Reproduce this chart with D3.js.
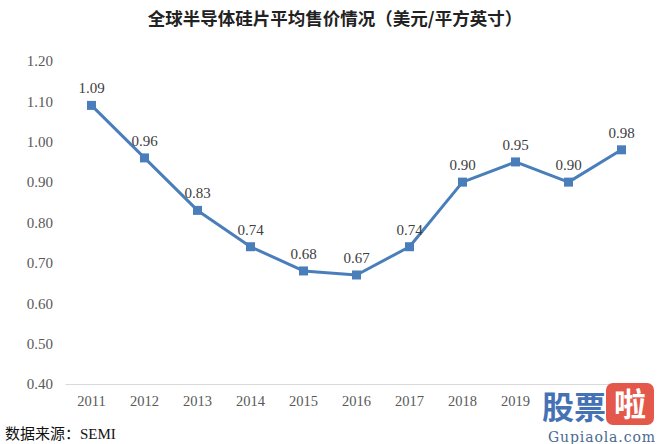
<!DOCTYPE html>
<html><head><meta charset="utf-8">
<script src="https://cdn.jsdelivr.net/npm/d3@7/dist/d3.min.js"></script>
<style>body{margin:0;background:#fff}svg{display:block}</style>
</head><body>
<svg id="c" width="660" height="444"></svg>
<script>
const years = ["2011","2012","2013","2014","2015","2016","2017","2018","2019","2020","2021"];
const prices = [1.09,0.96,0.83,0.74,0.68,0.67,0.74,0.90,0.95,0.90,0.98];
const yTicks = [0.40,0.50,0.60,0.70,0.80,0.90,1.00,1.10,1.20];
// the last two year labels are hidden under the watermark in the reference
const xTickLabels = ["2011","2012","2013","2014","2015","2016","2017","2018","2019"];
const title = "全球半导体硅片平均售价情况（美元/平方英寸）";
const source = "数据来源：SEMI";

const svg = d3.select("#c");
const m = {l:65, r:12};
const W = 660;
const x = d3.scaleBand().domain(years).range([m.l, W - m.r]);
const y = d3.scaleLinear().domain([0.4, 1.2]).range([384, 61]);
const serif = "'Liberation Serif','Times New Roman',serif";

svg.append("text").attr("x", 335).attr("y", 25).attr("text-anchor","middle")
  .style("font-family","'Noto Sans CJK SC',sans-serif").style("font-weight","bold")
  .style("font-size","17.5px").attr("fill","#222").text(title);

const ya = svg.append("g").attr("transform",`translate(${m.l},0)`)
  .call(d3.axisLeft(y).tickValues(yTicks).tickFormat(d3.format(".2f")).tickSize(0).tickPadding(12));
ya.select(".domain").remove();
ya.selectAll("text").style("font-family",serif).style("font-size","15px").attr("fill","#595959");

const xa = svg.append("g").attr("transform",`translate(0,384)`)
  .call(d3.axisBottom(x).tickSize(0).tickPadding(12)
    .tickFormat(d => xTickLabels.includes(d) ? d : ""));
xa.select(".domain").attr("stroke","#d9d9d9").attr("stroke-width",1);
xa.selectAll("text").style("font-family",serif).style("font-size","14.5px").attr("fill","#595959");

const cx = d => x(d) + x.bandwidth()/2;
const line = d3.line().x((d,i)=>cx(years[i])).y(d=>y(d));
svg.append("path").datum(prices).attr("d",line).attr("fill","none")
  .attr("stroke","#4a7ebb").attr("stroke-width",3).attr("stroke-linejoin","round");
svg.selectAll("rect.pt").data(prices).join("rect").attr("class","pt")
  .attr("x",(d,i)=>cx(years[i])-4.5).attr("y",d=>y(d)-4.5)
  .attr("width",9).attr("height",9).attr("fill","#4a7ebb");
svg.selectAll("text.lbl").data(prices).join("text").attr("class","lbl")
  .attr("x",(d,i)=>cx(years[i])).attr("y",d=>y(d)-12).attr("text-anchor","middle")
  .style("font-family",serif).style("font-size","15px").attr("fill","#404040")
  .text(d=>d3.format(".2f")(d));

svg.append("text").attr("x",5).attr("y",439)
  .style("font-family","'Liberation Serif','Noto Sans CJK SC',serif").style("font-size","15px").attr("fill","#111")
  .text(source);

// watermark
const wm = svg.append("g");
wm.append("text").attr("x",542).attr("y",419).style("font-family","'Noto Sans CJK SC',sans-serif")
  .style("font-weight","bold").style("font-size","32px").attr("fill","#4572b5").text("股票");
wm.append("rect").attr("x",606).attr("y",383).attr("width",48).attr("height",42).attr("rx",7).attr("fill","#e4584b");
wm.append("text").attr("x",630).attr("y",416).attr("text-anchor","middle").style("font-family","'Noto Sans CJK SC',sans-serif")
  .style("font-weight","bold").style("font-size","32px").attr("fill","#fff").text("啦");
wm.append("text").attr("x",548).attr("y",442).attr("textLength",107).attr("lengthAdjust","spacing")
  .style("font-family","'DejaVu Serif',serif")
  .style("font-size","14px").attr("fill","#4a6a90").text("Gupiaola.com");
</script>
</body></html>
